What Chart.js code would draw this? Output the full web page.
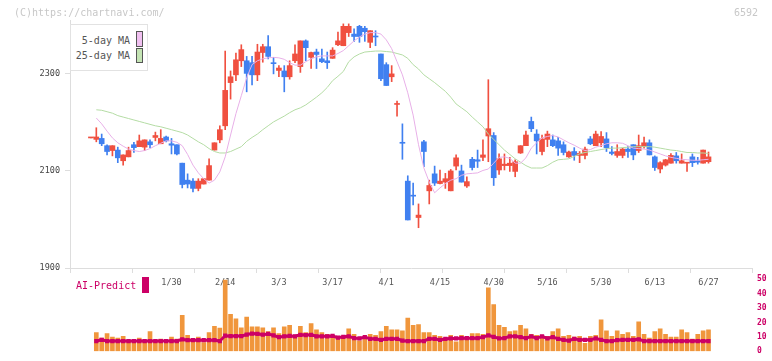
<!DOCTYPE html>
<html>
<head>
<meta charset="utf-8">
<script src="https://cdn.jsdelivr.net/npm/chart.js@4.4.1/dist/chart.umd.min.js"></script>
<style>
  html, body { margin: 0; padding: 0; background: #fff; }
  #wrap { position: relative; width: 772px; height: 361px; overflow: hidden; font-family: "DejaVu Sans Mono", monospace; }
  canvas { position: absolute; left: 0; }
  #price { top: 0; }
  #vol { top: 262px; }
  .t { position: absolute; white-space: nowrap; line-height: 12px; }
  #legend { position: absolute; left: 70px; top: 24px; width: 78px; height: 47px; box-sizing: border-box; border: 1px solid #e2e2e2; background: #fff; }
  .sw { position: absolute; box-sizing: border-box; border: 1px solid #555; width: 7px; }
</style>
</head>
<body>
<div id="wrap">
  <canvas id="price" width="772" height="300"></canvas>
  <canvas id="vol" width="772" height="99"></canvas>
  <div class="t" style="left:14px;top:7px;font-size:10px;color:#c8c8c8">(C)https://chartnavi.com/</div>
  <div class="t" style="left:734px;top:7px;font-size:10px;color:#c8c8c8">6592</div>
  <div id="legend">
    <div class="t" style="left:4px;top:10px;width:55px;text-align:right;font-size:10px;color:#555">5-day MA</div>
    <div class="t" style="left:4px;top:25px;width:55px;text-align:right;font-size:10px;color:#555">25-day MA</div>
    <div class="sw" style="left:65px;top:6px;height:16px;background:#f0c0f0"></div>
    <div class="sw" style="left:65px;top:23px;height:15px;background:#c4e4b4"></div>
  </div>
  <div class="t" style="left:76px;top:280px;font-size:10px;color:#cc0066">AI-Predict</div>
  <div style="position:absolute;left:142px;top:277px;width:7px;height:16px;background:#cc0066"></div>
</div>
<script>
// daily candles, index 0 = 1/8 ... index 115 = 6/27
const openP = [2168,2165,2167,2152,2142,2143,2121,2129,2154,2150,2149,2160,2169,2156,2170,2156,2154,2116,2081,2079,
  2064,2073,2081,2143,2164,2193,2282,2298,2327,2327,2323,2298,2344,2356,2323,2307,2306,2294,2327,2315,
  2368,2334,2345,2331,2327,2332,2360,2358,2385,2382,2398,2394,2365,2377,2341,2319,2294,2237,2159,2079,
  2050,2004,2160,2059,2094,2074,2077,2059,2110,2100,2069,2124,2123,2128,2172,2173,2102,2111,2111,2099,
  2137,2152,2202,2176,2140,2165,2164,2162,2154,2129,2140,2132,2132,2166,2152,2158,2166,2139,2132,2132,
  2145,2154,2142,2150,2158,2129,2104,2112,2116,2131,2116,2116,2129,2121,2116,2119];
const highP = [2168,2189,2176,2154,2152,2149,2133,2149,2159,2174,2164,2164,2180,2185,2172,2167,2154,2116,2094,2084,
  2084,2084,2125,2158,2193,2347,2306,2343,2360,2336,2336,2361,2361,2379,2334,2317,2317,2327,2360,2368,
  2370,2345,2351,2351,2345,2354,2386,2403,2403,2393,2400,2398,2389,2389,2341,2323,2317,2244,2197,2090,
  2075,2032,2163,2081,2110,2102,2095,2103,2133,2112,2088,2128,2143,2164,2288,2179,2135,2135,2128,2123,
  2152,2182,2211,2185,2174,2182,2174,2169,2160,2141,2148,2140,2149,2171,2182,2181,2179,2150,2154,2147,
  2150,2154,2174,2170,2164,2131,2119,2124,2136,2138,2135,2117,2135,2128,2143,2139];
const lowP = [2168,2160,2152,2133,2131,2117,2112,2129,2138,2150,2142,2148,2162,2156,2160,2135,2133,2065,2065,2057,
  2059,2073,2081,2143,2158,2185,2248,2286,2315,2263,2277,2286,2324,2331,2300,2294,2263,2289,2323,2303,
  2327,2311,2311,2323,2311,2332,2358,2358,2377,2367,2365,2367,2354,2358,2286,2276,2284,2213,2124,1999,
  2030,1983,2109,2032,2070,2073,2064,2059,2102,2077,2066,2102,2107,2121,2119,2070,2093,2102,2099,2088,
  2136,2152,2181,2135,2133,2150,2150,2132,2133,2128,2122,2117,2125,2154,2152,2150,2140,2133,2128,2127,
  2128,2123,2138,2147,2133,2101,2096,2110,2116,2116,2116,2099,2109,2114,2116,2116];
const closeP = [2168,2170,2156,2140,2152,2127,2133,2142,2148,2162,2164,2154,2173,2167,2162,2153,2135,2072,2073,2064,
  2079,2084,2111,2158,2185,2266,2294,2329,2350,2301,2298,2345,2356,2336,2321,2312,2294,2317,2341,2368,
  2354,2344,2340,2325,2323,2349,2368,2398,2398,2377,2377,2387,2389,2376,2290,2276,2300,2238,2157,1999,
  2048,2009,2140,2070,2075,2079,2084,2100,2127,2077,2078,2107,2120,2133,2187,2086,2125,2114,2116,2119,
  2152,2174,2187,2162,2166,2176,2152,2147,2138,2139,2132,2136,2145,2156,2176,2171,2148,2136,2140,2145,
  2140,2133,2152,2158,2133,2107,2117,2123,2132,2121,2121,2117,2117,2118,2143,2129];
const ma5 = [null,2209,2197,2182,2168,2158,2151,2145,2142,2140,2142,2146,2152,2157,2162,2162,2159,2152,2134,2112,
  2096,2084,2075,2081,2098,2129,2174,2218,2255,2292,2319,2327,2331,2333,2334,2333,2330,2323,2318,2318,
  2325,2331,2335,2337,2337,2337,2342,2348,2358,2368,2376,2382,2385,2385,2382,2370,2352,2325,2298,2261,
  2215,2154,2106,2077,2055,2065,2074,2081,2084,2091,2094,2095,2096,2101,2104,2116,2128,2129,2126,2116,
  2116,2127,2147,2158,2168,2171,2173,2170,2164,2158,2153,2147,2142,2144,2149,2152,2156,2158,2158,2157,
  2152,2147,2146,2145,2143,2139,2135,2131,2128,2126,2124,2123,2122,2122,2123,2124];
const ma25 = [null,2226,2225,2222,2219,2214,2211,2208,2205,2202,2199,2196,2193,2191,2188,2185,2182,2179,2174,2167,
  2160,2154,2146,2140,2137,2137,2140,2145,2150,2161,2169,2176,2185,2193,2201,2207,2213,2220,2226,2230,
  2236,2244,2252,2261,2272,2286,2295,2305,2325,2335,2341,2345,2346,2347,2347,2346,2345,2342,2339,2332,
  2319,2310,2298,2290,2282,2273,2264,2252,2238,2230,2222,2211,2201,2191,2176,2165,2154,2143,2134,2125,
  2118,2111,2106,2106,2106,2111,2118,2123,2124,2125,2130,2135,2138,2140,2142,2144,2146,2147,2147,2148,
  2149,2150,2150,2150,2150,2149,2147,2145,2143,2142,2140,2138,2138,2137,2137,2136];
const volume = [null,12.9,9.2,12.3,9.8,9.2,10.4,7.3,7.3,9.2,7.3,13.6,7.5,8.5,5.4,9.8,8.5,25,11,9,
  9.8,6,12.9,17.4,16.1,49.6,25.6,22.6,16.3,23.7,17,17,16.3,13.6,16.3,12.3,17,18,11,17.4,
  12.9,19.3,14.8,12.9,11.7,11,9.4,9.8,15.5,11.7,7.3,9.2,11.7,11,13.6,17.4,14.8,14.8,14.2,23,
  18,18.6,12.9,12.9,11,10.4,7.9,11,6.6,11,9.8,12.3,12.3,11.7,44.1,32.5,18,16.7,13.6,14.2,
  18,15.5,11.7,11,9.8,10.4,13.6,15.5,10.4,11,9.8,10.4,5.4,10.4,11,21.8,14.2,10.4,14.2,11.7,
  12.9,10.4,20.5,11.7,9.2,13.6,15.5,11.7,9.8,9.8,14.8,12.9,8.5,11.7,14.2,14.8];
const aiPredict = [null,7.1,7.9,7.1,7.1,7.1,7.1,7.1,7.1,7.1,7.1,7.1,7.1,7.1,7.1,7.1,7.1,8.3,7.7,7.7,
  7.7,7.7,7.7,7.7,7.1,10.8,10.5,10.5,10.5,11.6,12.3,12.1,11.5,12,11,9.8,10.4,10.6,10.4,11.4,
  11.2,11.4,10.4,10.4,10.4,10.6,9.4,10,10.4,9.1,8.9,9.8,8.6,8.6,7.9,8.6,8.6,8.6,7.3,7.1,
  7.1,7.1,7.1,8.6,8.6,7.9,8.6,8.9,8.9,9.1,9.1,9.1,9.1,9.8,11,10,8.9,9.1,10.4,10.4,
  9.8,9.1,10.4,9.1,10.4,8.9,9.8,8.6,7.9,7.3,8.6,7.9,7.9,7.9,8.9,7.9,7.1,7.1,7.7,7.9,
  7.9,7.9,8.3,7.1,7.1,7.1,7.1,7.1,7.1,7.1,7.1,7.1,7.1,7.1,7.1,7.1];
const dateLabels = ['1/30','2/14','3/3','3/17','4/1','4/15','4/30','5/16','5/30','6/13','6/27'];
const dateIndex = [15,25,35,45,55,65,75,85,95,105,115];
const priceTicks = [1900, 2100, 2300];
const volTicks = [0, 10, 20, 30, 40, 50];

const X_MIN = -3.9, X_MAX = 123.1;
const UP = '#f05040', DOWN = '#4080f0';
const MONO = 'DejaVu Sans Mono';

const candleColors = openP.map((o, i) => closeP[i] >= o ? UP : DOWN);
const pts = arr => arr.map((v, i) => ({ x: i, y: v }));

new Chart(document.getElementById('price'), {
  type: 'bar',
  data: {
    datasets: [
      { type: 'line', data: pts(ma5), borderColor: '#e8b0e8', borderWidth: 1, pointRadius: 0,
        xAxisID: 'x', yAxisID: 'y', order: 0 },
      { type: 'line', data: pts(ma25), borderColor: '#b4dca4', borderWidth: 1, pointRadius: 0,
        xAxisID: 'x', yAxisID: 'y', order: 0 },
      { data: openP.map((o, i) => ({ x: i, y: [o, closeP[i]] })), backgroundColor: candleColors,
        barThickness: 5, minBarLength: 1, grouped: false, xAxisID: 'x', yAxisID: 'y', order: 1 },
      { data: lowP.map((l, i) => ({ x: i, y: [l, highP[i]] })), backgroundColor: candleColors,
        barThickness: 1, grouped: false, xAxisID: 'x', yAxisID: 'y', order: 2 }
    ]
  },
  options: {
    responsive: false,
    animation: false,
    layout: { padding: { top: 20, right: 20, left: 0, bottom: 0 } },
    plugins: { legend: { display: false }, tooltip: { enabled: false } },
    scales: {
      x: {
        type: 'linear', min: X_MIN, max: X_MAX, offset: false, position: 'bottom',
        grid: { drawOnChartArea: false, offset: false, color: '#dddddd', tickLength: 5 },
        border: { color: '#dddddd' },
        ticks: { display: false },
        afterBuildTicks: s => {
          const step = (X_MAX - X_MIN) / 11;
          s.ticks = [0,1,2,3,4,5,6,7,8,9,10,11].map(k => ({ value: X_MIN + k * step }));
        },
        afterFit: s => { s.height = 6; }
      },
      xd: {
        type: 'linear', min: X_MIN, max: X_MAX, offset: false, position: 'bottom',
        grid: { display: false, drawTicks: false, offset: false },
        border: { display: false },
        ticks: {
          padding: 4, color: '#555', maxRotation: 0, autoSkip: false,
          font: { family: MONO, size: 8.5 },
          callback: v => { const k = dateIndex.indexOf(v); return k < 0 ? '' : dateLabels[k]; }
        },
        afterBuildTicks: s => { s.ticks = dateIndex.map(v => ({ value: v })); },
        afterFit: s => { s.height = 26; }
      },
      y: {
        type: 'linear', min: 1900, max: 2411, position: 'left',
        grid: { drawOnChartArea: false, color: '#dddddd', tickLength: 5 },
        border: { color: '#dddddd' },
        ticks: { padding: 5, color: '#444', font: { family: MONO, size: 8.5 }, callback: v => String(v) },
        afterBuildTicks: s => { s.ticks = priceTicks.map(v => ({ value: v })); },
        afterFit: s => { s.width = 70; }
      }
    }
  }
});

new Chart(document.getElementById('vol'), {
  type: 'bar',
  data: {
    datasets: [
      { type: 'line', data: pts(aiPredict), borderColor: '#cc0066', borderWidth: 3,
        pointStyle: 'rect', pointRadius: 3, pointBackgroundColor: '#cc0066', pointBorderWidth: 0,
        xAxisID: 'x', yAxisID: 'y', order: 0 },
      { data: pts(volume), backgroundColor: '#f0963c', barThickness: 4, grouped: false,
        xAxisID: 'x', yAxisID: 'y', order: 1 }
    ]
  },
  options: {
    responsive: false,
    animation: false,
    layout: { padding: { top: 8, right: 0, left: 70, bottom: 3.5 } },
    plugins: { legend: { display: false }, tooltip: { enabled: false } },
    scales: {
      x: { type: 'linear', min: X_MIN, max: X_MAX, offset: false, display: false },
      y: {
        type: 'linear', position: 'right', min: 0, max: 55.3,
        grid: { display: false, drawTicks: false }, border: { display: false },
        ticks: { padding: 5, color: '#cc0066', font: { family: MONO, size: 8, weight: 'bold' },
          callback: v => String(v) },
        afterBuildTicks: s => { s.ticks = volTicks.map(v => ({ value: v })); },
        afterFit: s => { s.width = 20; }
      }
    }
  }
});
</script>
</body>
</html>
